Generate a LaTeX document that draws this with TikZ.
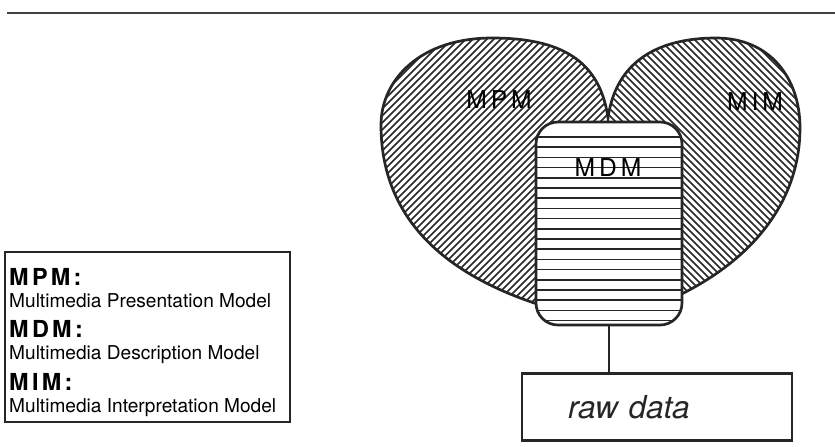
\documentclass[tikz,border=0pt]{standalone}
\usepackage{fontspec}
\newfontfamily\helv{TeX Gyre Heros}
\newfontfamily\helvwide[LetterSpace=16]{TeX Gyre Heros}
\newfontfamily\helvhead[LetterSpace=14]{TeX Gyre Heros}
\tikzset{>=latex}
\tikzset{
  outline/.style={line width=2.3pt,black!85},
  hatch/.style={line width=1.25pt,black!85},
  lobelabel/.style={font=\helvwide\fontsize{21pt}{21pt}\selectfont,inner sep=0pt},
  mdmbox/.style={outline,draw,fill=white,rounded corners=0.66cm,inner sep=0pt,
    minimum width=4.38cm,minimum height=6.09cm},
  rawbox/.style={outline,draw,inner xsep=1.38cm,text width=5.34cm,align=left,
    minimum height=2.01cm,font=\helv\itshape\fontsize{27pt}{27pt}\selectfont},
  legendbox/.style={outline,draw,inner sep=0pt,minimum width=8.55cm,minimum height=5.1cm},
  keyhead/.style={anchor=base west,inner sep=0pt,font=\helvhead\bfseries\fontsize{20pt}{20pt}\selectfont},
  keytext/.style={anchor=base west,inner sep=0pt,font=\helv\fontsize{16.3pt}{16.3pt}\selectfont}
}
% outline of the heart, both lobes
\def\heartpath{(608,118) .. controls (600,60) and (560,38) .. (492,38)
  .. controls (420,38) and (381,80) .. (381,125)
  .. controls (381,215) and (440,290) .. (608,322)
  .. controls (740,285) and (800,210) .. (800,128)
  .. controls (800,78) and (770,38) .. (716,38)
  .. controls (660,38) and (616,60) .. (608,118) -- cycle}

\begin{document}
\begin{tikzpicture}[x=0.03cm,y=-0.03cm]
  \useasboundingbox (0,0) rectangle (835,447);
  \draw[line width=2.4pt,black!75] (7,13) -- (835,13);

  % left lobe, hatched /
  \begin{scope}
    \clip \heartpath;
    \clip (370,30) rectangle (608,330);
    \foreach \k in {0,...,85} \draw[hatch] (70+7*\k,330) -- ++(300,-300);
  \end{scope}
  % right lobe, hatched \
  \begin{scope}
    \clip \heartpath;
    \clip (608,30) rectangle (810,330);
    \foreach \k in {0,...,80} \draw[hatch] (300+7*\k,30) -- ++(300,300);
  \end{scope}
  \draw[outline] \heartpath;

  % description model in the middle
  \node[mdmbox,path picture={
      \foreach \y in {0,...,18}
        \draw[hatch] ([yshift=-0.45cm-0.306cm*\y]path picture bounding box.north west)
          -- ++(4.5cm,0);
    }] (mdm) at (609,223.5) {};

  \node[lobelabel] (mpm) at (499,100) {MPM};
  \node[lobelabel] (mim) at (755,102) {MIM};
  \node[lobelabel] (mdmtext) at (608,168) {MDM};

  \node[rawbox] (raw) at (657,407) {raw data};
  \draw[outline] (mdm.south) -- (mdm.south |- raw.north);

  % key
  \node[legendbox] (legend) at (147.5,337) {};
  \node[keyhead] (k1) at (9,285) {MPM:};
  \node[keytext] (t1) at (9,307) {Multimedia Presentation Model};
  \node[keyhead] (k2) at (9,337) {MDM:};
  \node[keytext] (t2) at (9,359) {Multimedia Description Model};
  \node[keyhead] (k3) at (9,390) {MIM:};
  \node[keytext] (t3) at (9,412) {Multimedia Interpretation Model};
\end{tikzpicture}
\end{document}
